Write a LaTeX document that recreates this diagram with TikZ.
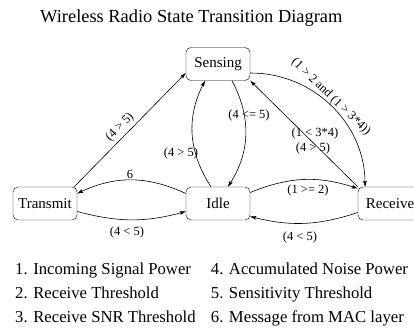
\documentclass[tikz,border=0pt]{standalone}
\usepackage{fontspec}
\setmainfont{Liberation Serif}
\usetikzlibrary{arrows.meta}
\begin{document}
\begin{tikzpicture}[x=1pt,y=-1pt,
  state/.style={draw,rounded corners=5pt,minimum width=64pt,minimum height=33pt,
    inner sep=0pt,font=\fontsize{15}{18}\selectfont},
  trans/.style={line width=0.6pt,-{Stealth[length=6pt,width=3.6pt,inset=1pt]}},
  lbl/.style={inner sep=0pt,font=\fontsize{12.5}{14}\selectfont},
  legend/.style={anchor=base west,inner sep=0pt,font=\fontsize{16.7}{19}\selectfont}]
  \clip (0,0) rectangle (414,329);

  % title
  \node[anchor=base,inner sep=0pt,font=\fontsize{18.4}{21}\selectfont] (title) at (191.3,22.7)
    {Wireless Radio State Transition Diagram};

  % states
  \node[state] (sen) at (218,64) {Sensing};
  \node[state] (tra) at (45,203.5) {Transmit};
  \node[state] (idl) at (218,203.5) {Idle};
  \node[state] (rec) at (390,203.5) {Receive};

  % transitions
  \draw[trans] ([xshift=-3pt]tra.north east) -- ([yshift=-9pt]sen.west);
  \draw[trans] ([xshift=-7pt]idl.north) to[bend left=30] ([xshift=-13pt]sen.south);
  \draw[trans] ([xshift=14pt]sen.south) to[bend left=30] ([xshift=10pt]idl.north);
  \draw[trans] ([yshift=10pt]idl.west) to[bend right=25] ([yshift=10pt]tra.east);
  \draw[trans] ([yshift=-8pt]tra.east) to[bend right=15] ([yshift=-8pt]idl.west);
  \draw[trans] ([yshift=11pt]idl.east) to[bend left=20] ([yshift=15pt]rec.west);
  \draw[trans] ([yshift=-9pt]rec.west) to[bend left=16] ([yshift=-13pt]idl.east);
  \draw[trans] (rec.north west) -- (sen.south east);
  \draw[trans] ([yshift=-9pt]sen.east) to[bend left=45] ([xshift=-25pt]rec.north);

  % transition conditions
  \node[lbl,rotate=45] (l1) at (120,127) {(4 > 5)};
  \node[lbl] (l2) at (181,153) {(4 > 5)};
  \node[lbl] (l3) at (249,115) {(4 <= 5)};
  \node[lbl] (l4) at (315,133) {(1 < 3*4)};
  \node[lbl] (l5) at (313,148) {(4 > 5)};
  \node[lbl] (l6) at (308,190) {(1 >= 2)};
  \node[lbl] (l7) at (300,237) {(4 < 5)};
  \node[lbl] (l8) at (127,232) {(4 < 5)};
  \node[lbl] (l9) at (130,174) {6};
  \node[lbl,rotate=-44] (l10) at (331,97) {(1 > 2 and (1 > 3*4))};

  % legend
  \node[legend] (k1) at (15,274.3) {1. Incoming Signal Power};
  \node[legend] (k2) at (15,298.3) {2. Receive Threshold};
  \node[legend] (k3) at (15,322.7) {3. Receive SNR Threshold};
  \node[legend] (k4) at (210.7,274.3) {4. Accumulated Noise Power};
  \node[legend] (k5) at (210.7,298.3) {5. Sensitivity Threshold};
  \node[legend] (k6) at (210.7,322.7) {6. Message from MAC layer};
\end{tikzpicture}
\end{document}
